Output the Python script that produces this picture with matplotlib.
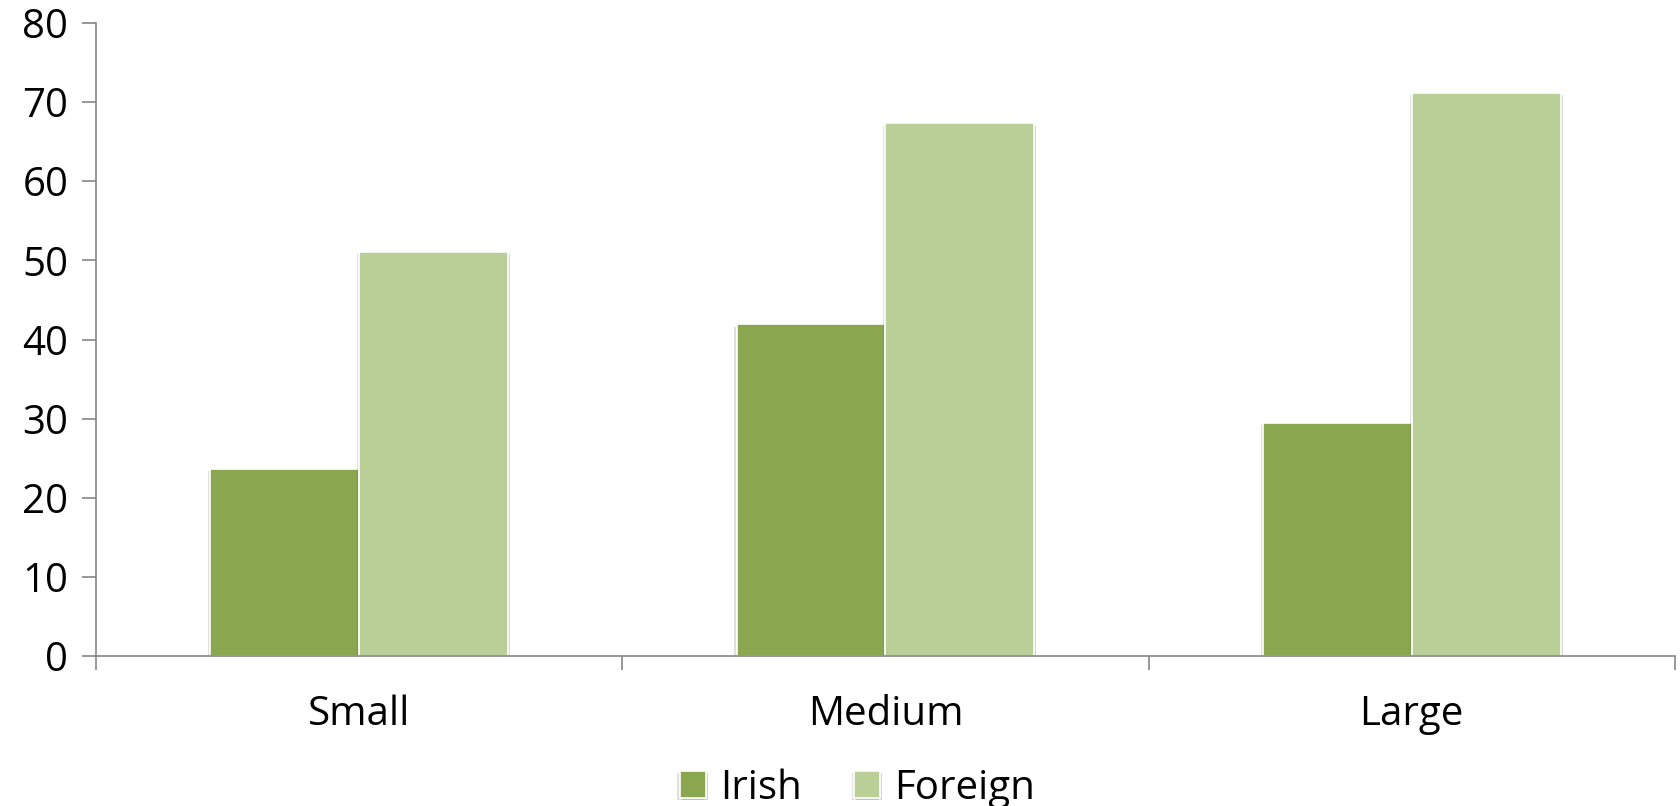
import numpy as np
import matplotlib.pyplot as plt
import matplotlib.patheffects as pe

plt.rcParams['font.family'] = ['Open Sans', 'DejaVu Sans']

categories = ['Small', 'Medium', 'Large']
irish = [23.7, 41.9, 29.4]
foreign = [51.1, 67.3, 71.2]

fig = plt.figure(figsize=(16.81, 8.06), dpi=100)
ax = fig.add_axes([0.0571, 0.186, 0.9393, 0.7855])

x = np.arange(len(categories))
w = 0.283
shadow = [pe.SimplePatchShadow(offset=(-1.5, -1.5), alpha=0.15),
          pe.SimplePatchShadow(offset=(1.5, -1.5), alpha=0.2), pe.Normal()]
b1 = ax.bar(x - w / 2, irish, w, color='#8aa64f', edgecolor='white', linewidth=1.2, label='Irish')
b2 = ax.bar(x + w / 2, foreign, w, color='#bace97', edgecolor='white', linewidth=1.2, label='Foreign')
for b in list(b1) + list(b2):
    b.set_path_effects(shadow)

ax.set_xlim(-0.5, 2.5)
ax.set_ylim(0, 80)
ax.set_yticks(range(0, 81, 10))

ax.set_xticks(x)
ax.set_xticklabels(categories)
ax.set_xticks([-0.5, 0.5, 1.5, 2.5], minor=True)
ax.tick_params(axis='x', which='major', length=0, pad=28, labelsize=29)
ax.tick_params(axis='x', which='minor', length=10, width=1.2, color='#868686')
ax.tick_params(axis='y', length=10, width=1.2, color='#868686', labelsize=29, pad=10)

for side in ['top', 'right']:
    ax.spines[side].set_visible(False)
for side in ['left', 'bottom']:
    ax.spines[side].set_color('#868686')
    ax.spines[side].set_linewidth(1.2)

fig.legend(handles=[b1, b2], loc='center', bbox_to_anchor=(0.51, 0.022), ncol=2,
           frameon=False, fontsize=29, handlelength=0.65, handleheight=0.65,
           handletextpad=0.35, columnspacing=1.3)

fig.savefig('out.png', dpi=100)
